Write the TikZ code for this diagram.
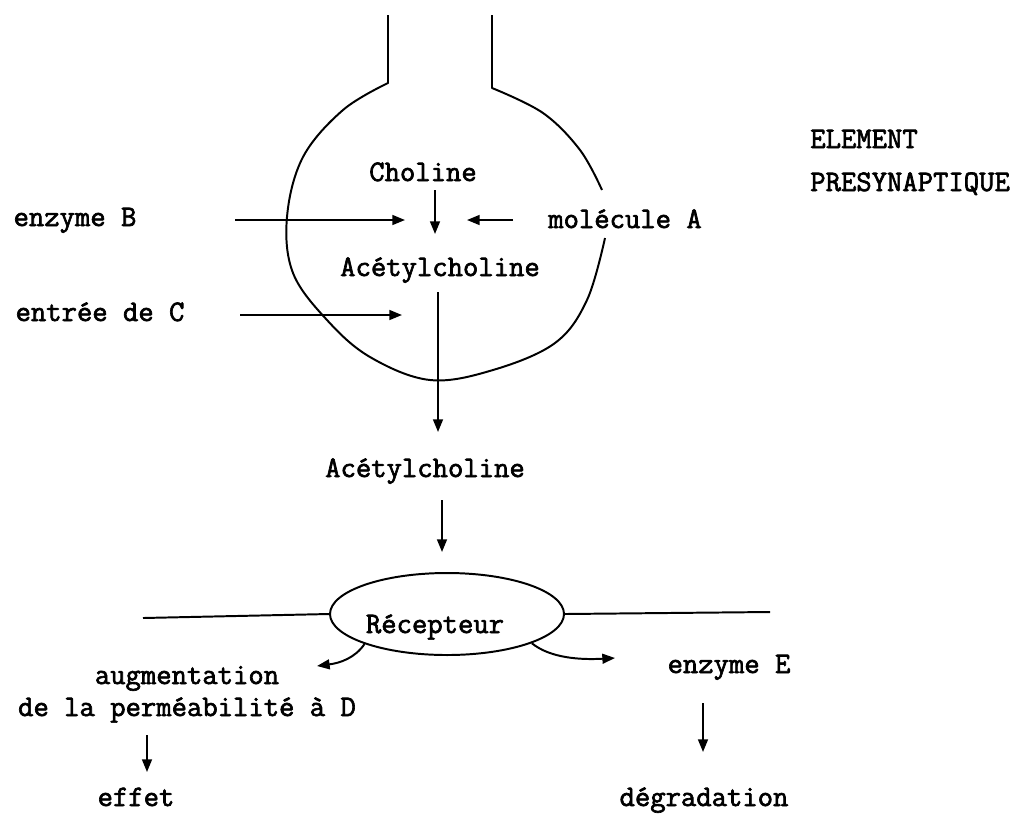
\documentclass[tikz,border=0pt]{standalone}
\usepackage{fontspec}
\newfontfamily\machine{Latin Modern Mono}[RawFeature={embolden=2.2}]
\usetikzlibrary{arrows.meta,shapes.geometric}

\tikzset{
  texte/.style={font=\machine\fontsize{21.2}{22.8}\selectfont, inner sep=0pt, anchor=base},
  trait/.style={line width=1.4pt, line join=round},
  fleche/.style={trait, -{Triangle[length=9pt,width=7pt]}}
}

\begin{document}
\begin{tikzpicture}[x=0.25mm,y=-0.25mm]
  \useasboundingbox (0,0) rectangle (1018,816);

  % element presynaptique
  \draw[trait] (388,15) -- plot[smooth, tension=0.6] coordinates {(388,83) (343,110) (303,157) (287,217)
    (293,273) (327,320) (370,357) (430,380) (493,370) (555,343) (587,300) (605,238)};
  \draw[trait] (492,15) -- plot[smooth, tension=0.6] coordinates {(492,88) (543,113) (580,150) (602,190)};

  \begin{scope}[every node/.style={texte}]
    \node (cho)   at (423,181) {Choline};
    \node (acin)  at (440,276) {Acétylcholine};
    \node (enzB)  at (75,226)  {enzyme B};
    \node (molA)  at (625,228) {molécule A};
    \node (entC)  at (100,321) {entrée de C};
    \node[anchor=base west] (elem) at (810,148) {ELEMENT};
    \node[anchor=base west] (pres) at (810,191) {PRESYNAPTIQUE};
    \node (acout) at (425,477) {Acétylcholine};
    \node (augm)  at (187,684) {augmentation};
    \node (perm)  at (187,716) {de la perméabilité à D};
    \node (effet) at (136,806) {effet};
    \node (enzE)  at (729,673) {enzyme E};
    \node (degr)  at (704,806) {dégradation};
  \end{scope}

  \node[draw, trait, ellipse, minimum width=58.5mm, minimum height=20.5mm] (recep) at (447,614) {};
  \node[texte] (rectxt) at (435,633) {Récepteur};

  % membrane
  \coordinate (memG) at (143,618);
  \coordinate (memD) at (770,612);
  \draw[trait] (memG) -- (recep.west);
  \draw[trait] (recep.east) -- (memD);

  % bouts des fleches
  \coordinate (b0) at (235,220);  \coordinate (b1) at (405,220);
  \coordinate (a0) at (513,220);  \coordinate (a1) at (467,220);
  \coordinate (c0) at (240,315);  \coordinate (c1) at (402,315);
  \coordinate (k0) at (435,190);  \coordinate (k1) at (435,234);
  \coordinate (h0) at (438,292);  \coordinate (h1) at (438,432);
  \coordinate (r0) at (442,500);  \coordinate (r1) at (442,552);
  \coordinate (g1) at (317,666);  \coordinate (d1) at (615,658);
  \coordinate (p0) at (147,735);  \coordinate (p1) at (147,772);
  \coordinate (e0) at (703,703);  \coordinate (e1) at (703,752);

  \draw[fleche] (b0) -- (b1);
  \draw[fleche] (a0) -- (a1);
  \draw[fleche] (c0) -- (c1);
  \draw[fleche] (k0) -- (k1);
  \draw[fleche] (h0) -- (h1);
  \draw[fleche] (r0) -- (r1);
  \draw[fleche] (recep.200) .. controls (355,658) and (340,663) .. (g1);
  \draw[fleche] (recep.341) .. controls (550,658) and (580,660) .. (d1);
  \draw[fleche] (p0) -- (p1);
  \draw[fleche] (e0) -- (e1);

\end{tikzpicture}
\end{document}
